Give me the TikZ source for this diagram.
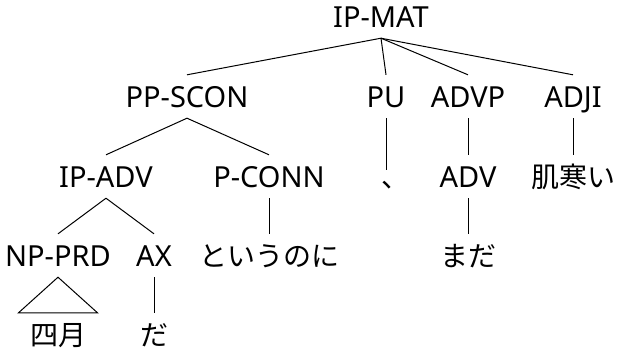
\documentclass[tikz,border=0pt]{standalone}
\usepackage{fontspec}
\setmainfont{Noto Sans}
\newfontfamily\jpfont{Noto Sans CJK JP}
\usetikzlibrary{calc}
\tikzset{
  lbl/.style={inner sep=0pt, anchor=base, text height=32bp, text depth=11bp,
              font=\fontsize{29bp}{34bp}\selectfont},
  jp/.style={lbl, font=\fontsize{28bp}{34bp}\selectfont\jpfont},
  branch/.style={line width=1bp, black},
}
\begin{document}
\begin{tikzpicture}[x=1bp,y=-1bp]
\useasboundingbox (0,0) rectangle (617,350);
% level 0
\node[lbl] (ipmat) at (381,27) {IP-MAT};
% level 1
\node[lbl] (ppscon) at (187,107) {PP-SCON};
\node[lbl] (pu) at (386,107) {PU};
\node[lbl] (advp) at (468,107) {ADVP};
\node[lbl] (adji) at (573,107) {ADJI};
% level 2
\node[lbl] (ipadv) at (106,187) {IP-ADV};
\node[lbl] (pconn) at (269,187) {P-CONN};
\node[jp, text height=17bp] (comma) at (395,187) {、};
\node[lbl] (adv) at (468,187) {ADV};
\node[jp] (hadazamui) at (573,187) {肌寒い};
% level 3
\node[lbl] (npprd) at (58,266) {NP-PRD};
\node[lbl] (ax) at (154,266) {AX};
\node[jp] (toiunoni) at (269,266) {というのに};
\node[jp] (mada) at (468,266) {まだ};
% level 4
\node[jp] (shigatsu) at (58,345) {四月};
\node[jp] (da) at (154,345) {だ};
% branches
\foreach \c in {ppscon,pu,advp,adji} \draw[branch] (ipmat.south) -- (\c.north);
\foreach \c in {ipadv,pconn} \draw[branch] (ppscon.south) -- (\c.north);
\draw[branch] (pu.south) -- (pu.south |- comma.north);
\draw[branch] (advp.south) -- (adv.north);
\draw[branch] (adji.south) -- (hadazamui.north);
\foreach \c in {npprd,ax} \draw[branch] (ipadv.south) -- (\c.north);
\draw[branch] (pconn.south) -- (toiunoni.north);
\draw[branch] (adv.south) -- (mada.north);
\draw[branch] (ax.south) -- (da.north);
% collapsed constituent
\draw[branch] (npprd.south) -- ($(shigatsu.north)+(-39.5,0)$) -- ($(shigatsu.north)+(39.5,0)$) -- cycle;
\end{tikzpicture}
\end{document}
